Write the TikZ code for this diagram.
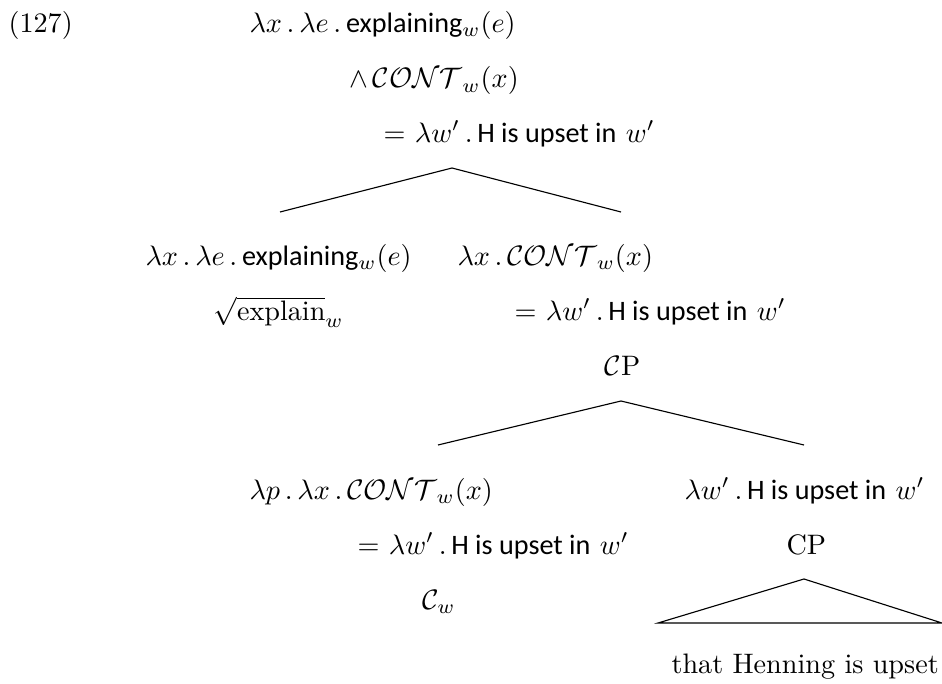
\documentclass[tikz,border=0pt]{standalone}
\usepackage{amsmath}
\usepackage{fontspec}
\setsansfont{Carlito}
\usetikzlibrary{positioning}
\newcommand{\contw}{\mathcal{CONT}_w}
\newcommand{\upsetin}{$\lambda w'\,.\,$\textsf{H is upset in} $w'$}
\tikzset{
	semlbl/.style={anchor=base west, inner sep=0pt, font=\normalsize},
	branch/.style={line width=0.4pt, draw=black}
}

\begin{document}
\begin{tikzpicture}[x=0.355pt, y=-0.355pt, every node/.style={semlbl}]
	\useasboundingbox (0,0) rectangle (942,684);
	\node (num) at (8,32) {(127)};
	% root
	\node (rootA) at (249,32) {$\lambda x\,.\,\lambda e\,.\,$\textsf{explaining}$_w(e)$};
	\node (rootB) at (349,88) {$\wedge\,\contw(x)$};
	\node (rootC) at (383,142) {$=$ \upsetin};
	\coordinate (top1) at (452,168);
	\coordinate (lft1) at (280,212);
	\coordinate (rgt1) at (621,212);
	\draw[branch] (lft1) -- (top1) -- (rgt1);
	% verb
	\node (verbA) at (145,265) {$\lambda x\,.\,\lambda e\,.\,$\textsf{explaining}$_w(e)$};
	\node (verbB) at (213,320) {$\sqrt{\mbox{explain}}_w$};
	% content
	\node (contA) at (457,265) {$\lambda x\,.\,\contw(x)$};
	\node (contB) at (514,320) {$=$ \upsetin};
	\node (contC) at (604,375) {$\mathcal{C}$P};
	\coordinate (top2) at (621,401);
	\coordinate (lft2) at (438,445);
	\coordinate (rgt2) at (804,445);
	\draw[branch] (lft2) -- (top2) -- (rgt2);
	% head
	\node (headA) at (249,499) {$\lambda p\,.\,\lambda x\,.\,\contw(x)$};
	\node (headB) at (357,554) {$=$ \upsetin};
	\node (headC) at (422,609) {$\mathcal{C}_w$};
	% complement
	\node (compA) at (684,499) {\upsetin};
	\node (compB) at (786,554) {CP};
	\coordinate (top3) at (804,579);
	\coordinate (lft3) at (658,623);
	\coordinate (rgt3) at (942,623);
	\draw[branch] (lft3) -- (top3) -- (rgt3) -- cycle;
	\node (compC) at (671,673) {that Henning is upset};
\end{tikzpicture}
\end{document}
